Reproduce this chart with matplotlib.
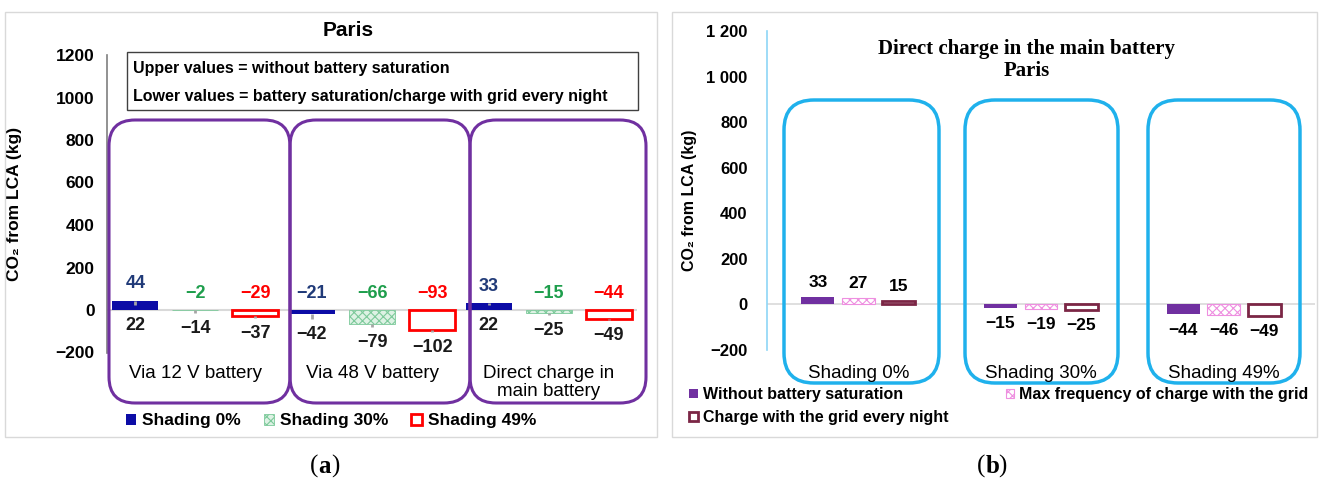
import matplotlib
matplotlib.use("Agg")
import matplotlib.pyplot as plt
import numpy as np
from matplotlib.patches import FancyBboxPatch, Rectangle
from matplotlib.ticker import FuncFormatter

plt.rcParams["font.family"] = ["Liberation Sans", "DejaVu Sans"]
plt.rcParams["hatch.linewidth"] = 0.8
plt.rcParams["mathtext.fontset"] = "custom"
plt.rcParams["mathtext.bf"] = "Liberation Serif:bold"
plt.rcParams["mathtext.rm"] = "Liberation Serif"

W, H = 1321, 488

# panel (a): Paris, three charging routes x three shading levels
routes = ["Via 12 V battery", "Via 48 V battery", "Direct charge in\nmain battery"]
shadings = ["Shading 0%", "Shading 30%", "Shading 49%"]
upper_vals = {  # without battery saturation
    "Shading 0%": [44, -21, 33],
    "Shading 30%": [-2, -66, -15],
    "Shading 49%": [-29, -93, -44],
}
lower_vals = {  # battery saturation / charge with grid every night
    "Shading 0%": [22, -42, 22],
    "Shading 30%": [-14, -79, -25],
    "Shading 49%": [-37, -102, -49],
}

# panel (b): direct charge in the main battery, Paris
shading_cats = ["Shading 0%", "Shading 30%", "Shading 49%"]
modes = ["Without battery saturation", "Max frequency of charge with the grid",
         "Charge with the grid every night"]
mode_vals = {
    "Without battery saturation": [33, -15, -44],
    "Max frequency of charge with the grid": [27, -19, -46],
    "Charge with the grid every night": [15, -25, -49],
}

y_ticks = [-200, 0, 200, 400, 600, 800, 1000, 1200]


def fig_rect(x0, y0, x1, y1):
    return [x0 / W, 1 - y1 / H, (x1 - x0) / W, (y1 - y0) / H]


def fx(x):
    return x / W


def fy(y):
    return 1 - y / H


def minus(v):
    return f"{v}".replace("-", "\u2212")


fig = plt.figure(figsize=(W / 100, H / 100), dpi=100)

# outer frames
for x0, x1 in [(5, 657), (672, 1317)]:
    fig.patches.append(Rectangle((fx(x0), fy(437)), (x1 - x0) / W, 425 / H,
                                 transform=fig.transFigure, fill=False,
                                 ec="#D9D9D9", lw=1))


def rounded(x0, y0, x1, y1, color, lw, r):
    p = FancyBboxPatch((x0 / 100, (H - y1) / 100), (x1 - x0) / 100, (y1 - y0) / 100,
                       boxstyle=f"round,pad=0,rounding_size={r}",
                       transform=fig.dpi_scale_trans, fill=False, ec=color, lw=lw)
    fig.patches.append(p)


# ---------------- panel (a)
ax = fig.add_axes(fig_rect(107, 55, 637, 352.5))
x = np.arange(len(routes))
offsets = [-0.34, 0.0, 0.34]
bw = 0.26
styles_a = {
    "Shading 0%": dict(color="#0C0CA6", lw=0),
    "Shading 30%": dict(facecolor="#DDF2E4", edgecolor="#7CC99A", hatch="xxxx", lw=0.6),
    "Shading 49%": dict(facecolor="white", edgecolor="#FF0000", lw=2),
}
label_cols = {"Shading 0%": "#203A78", "Shading 30%": "#1E9E4C", "Shading 49%": "#FF0000"}

ax.axhline(0, color="#D9D9D9", lw=1.5, zorder=1)
for off, s in zip(offsets, shadings):
    up = np.array(upper_vals[s])
    lo = np.array(lower_vals[s])
    ax.bar(x + off, up, bw, label=s, zorder=2, **styles_a[s])
    ax.errorbar(x + off, up, yerr=[up - lo, np.zeros_like(up)], fmt="none",
                ecolor="#A6A6A6", elinewidth=2, capsize=0, zorder=3)
    for xi, u, l in zip(x + off, up, lo):
        ax.annotate(minus(u), (xi, max(u, 0)), xytext=(0, 6), textcoords="offset points",
                    ha="center", va="bottom", fontsize=13, fontweight="bold",
                    color=label_cols[s])
        ax.annotate(minus(l), (xi, min(u, l, 0)), xytext=(0, -5), textcoords="offset points",
                    ha="center", va="top", fontsize=13, fontweight="bold", color="#1A1A1A")

ax.set_xlim(-0.5, 2.5)
ax.set_ylim(-200, 1200)
ax.set_yticks(y_ticks)
ax.yaxis.set_major_formatter(FuncFormatter(lambda v, p: minus(int(v))))
ax.tick_params(axis="y", length=0, pad=9, labelsize=12.5)
for t in ax.get_yticklabels():
    t.set_fontweight("bold")
ax.set_xticks([])
for side in ["top", "right", "bottom"]:
    ax.spines[side].set_visible(False)
ax.spines["left"].set_color("#7F7F7F")
ax.spines["left"].set_linewidth(1.2)
ax.set_ylabel("CO\u2082 from LCA (kg)", fontsize=12.5, fontweight="bold")
ax.yaxis.set_label_coords(-0.16, 0.5)
ax.patch.set_alpha(0)

for xi, name in zip(x, routes):
    fig.text(fx(107 + (xi + 0.5) * 530 / 3), fy(365), name, ha="center", va="top",
             fontsize=13.5, linespacing=1.1)

fig.text(fx(348), fy(31), "Paris", ha="center", va="center", fontsize=15, fontweight="bold")

fig.patches.append(Rectangle((fx(127), fy(110)), 511 / W, 58 / H, transform=fig.transFigure,
                             fc="white", ec="#404040", lw=1))
fig.text(fx(133), fy(68), "Upper values = without battery saturation", ha="left",
         va="center", fontsize=11.5, fontweight="bold")
fig.text(fx(133), fy(96), "Lower values = battery saturation/charge with grid every night",
         ha="left", va="center", fontsize=11.5, fontweight="bold")

for x0, x1 in [(109, 290), (290, 470), (470, 646)]:
    rounded(x0, 120, x1, 403, "#7030A0", 2.2, 0.26)

ax.legend(loc="center left", bbox_to_anchor=(fx(126), fy(421)), bbox_transform=fig.transFigure,
          ncol=3, frameon=False, prop=dict(weight="bold", size=12.5),
          handlelength=0.6, handleheight=0.6, handletextpad=0.35, columnspacing=1.3,
          borderpad=0, borderaxespad=0)

fig.text(fx(318), fy(466), "(", ha="right", va="center", fontsize=18, family="Liberation Serif")
fig.text(fx(318), fy(466), r"$\mathbf{a}$", ha="left", va="center", fontsize=18)
fig.text(fx(331), fy(466), ")", ha="left", va="center", fontsize=18, family="Liberation Serif")

# ---------------- panel (b)
bx = fig.add_axes(fig_rect(767, 31, 1315, 350))
xb = np.arange(len(shading_cats))
offs_b = [-0.222, 0.0, 0.222]
bwb = 0.18
styles_b = {
    "Without battery saturation": dict(color="#7030A0", lw=0),
    "Max frequency of charge with the grid": dict(facecolor="white", edgecolor="#EE8FE0",
                                                  hatch="xxxx", lw=0.8),
    "Charge with the grid every night": dict(facecolor="white", edgecolor="#7B2645", lw=2),
}
bx.axhline(0, color="#D9D9D9", lw=1.2, zorder=1)
handles = []
for off, m in zip(offs_b, modes):
    vals = np.array(mode_vals[m])
    bars = bx.bar(xb + off, vals, bwb, label=m, zorder=2, **styles_b[m])
    handles.append(bars)
    for xi, v in zip(xb + off, vals):
        if v >= 0:
            bx.annotate(minus(v), (xi, v), xytext=(0, 5), textcoords="offset points",
                        ha="center", va="bottom", fontsize=12.5, fontweight="bold")
        else:
            bx.annotate(minus(v), (xi, v), xytext=(0, -6), textcoords="offset points",
                        ha="center", va="top", fontsize=12.5, fontweight="bold")

bx.set_xlim(-0.5, 2.5)
bx.set_ylim(-200, 1200)
bx.set_yticks(y_ticks)
bx.yaxis.set_major_formatter(
    FuncFormatter(lambda v, p: minus(f"{int(v):,}".replace(",", " "))))
bx.tick_params(axis="y", length=0, pad=14, labelsize=12)
for t in bx.get_yticklabels():
    t.set_fontweight("bold")
bx.set_xticks([])
for side in ["top", "right", "bottom"]:
    bx.spines[side].set_visible(False)
bx.spines["left"].set_color("#8ED6F6")
bx.spines["left"].set_linewidth(1.2)
bx.set_ylabel("CO\u2082 from LCA (kg)", fontsize=11.5, fontweight="bold")
bx.yaxis.set_label_coords(-0.128, 0.47)
bx.patch.set_alpha(0)

fig.text(fx(1027), fy(60), "Direct charge in the main battery\nParis", ha="center",
         va="center", fontsize=15, fontweight="bold", family="Liberation Serif",
         linespacing=1.15)

for xi, name in zip(xb, shading_cats):
    fig.text(fx(767 + (xi + 0.5) * 548 / 3), fy(373), name, ha="center", va="center",
             fontsize=13.5)

for x0, x1 in [(784, 939), (965, 1118), (1148, 1300)]:
    rounded(x0, 100, x1, 383, "#1FB1EC", 2.5, 0.3)

order = [handles[0], handles[2], handles[1]]
bx.legend(order, [h.get_label() for h in order], loc="upper left",
          bbox_to_anchor=(fx(689), fy(387)), bbox_transform=fig.transFigure, ncol=2,
          frameon=False, prop=dict(weight="bold", size=11.5),
          handlelength=0.55, handleheight=0.55, handletextpad=0.3, columnspacing=3.6,
          labelspacing=0.5, borderpad=0, borderaxespad=0)

fig.text(fx(985), fy(466), "(", ha="right", va="center", fontsize=18, family="Liberation Serif")
fig.text(fx(985), fy(466), r"$\mathbf{b}$", ha="left", va="center", fontsize=18)
fig.text(fx(998), fy(466), ")", ha="left", va="center", fontsize=18, family="Liberation Serif")

fig.savefig("out.png", dpi=100)
